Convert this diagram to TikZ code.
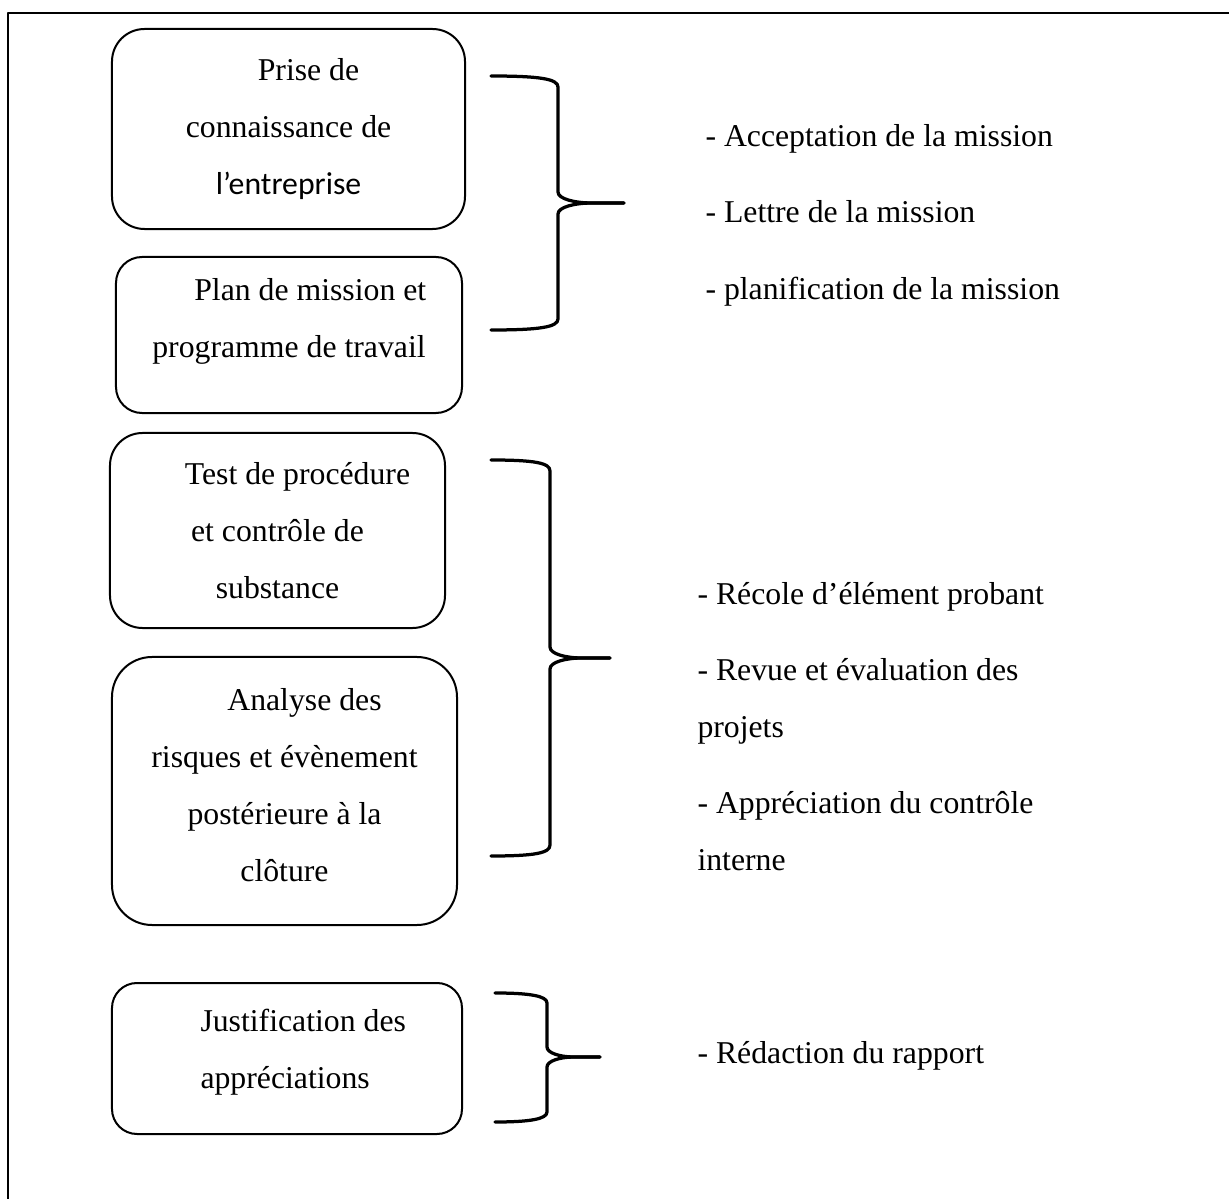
\documentclass[tikz,border=0pt]{standalone}
\usepackage{fontspec}
\setmainfont{Liberation Serif}
\newfontfamily\calibri{Carlito}

\begin{document}
\begin{tikzpicture}[line cap=round,line join=round,x=0.4pt,y=-0.4pt,
    etape/.style={draw,line width=0.8pt,align=center,inner sep=0pt,font=\fontsize{12.7}{22.8}\selectfont},
    accolade/.style={line width=1.3pt},
    tache/.style={anchor=base west,align=left,inner sep=0pt,font=\fontsize{12.7}{22.8}\selectfont}]
    \useasboundingbox (0,0) rectangle (1229,1199);
    % cadre
    \draw [line width=1.1pt] (8,1199) -- (8,13) -- (1229,13);
    % etapes de la mission
    \node[etape,rounded corners=13pt,minimum width=141.2pt,minimum height=80pt] (prise) at (288.5,129)
        {\hspace*{16pt}Prise de\\connaissance de\\{\calibri l’entreprise}};
    \node[etape,rounded corners=10.4pt,minimum width=138.4pt,minimum height=62.4pt] (plan) at (289,335)
        {\hspace*{17pt}Plan de mission et\\programme de travail\rule[-14pt]{0pt}{0pt}};
    \node[etape,rounded corners=13pt,minimum width=134pt,minimum height=78pt] (test) at (277.5,530.5)
        {\hspace*{16pt}Test de procédure\\et contrôle de\\substance};
    \node[etape,rounded corners=16pt,minimum width=138pt,minimum height=107.2pt] (analyse) at (284.5,791)
        {\hspace*{16pt}Analyse des\\risques et évènement\\postérieure à la\\clôture\rule[-5pt]{0pt}{0pt}};
    \node[etape,align=left,rounded corners=10pt,minimum width=140pt,minimum height=60.4pt] (justif) at (287,1058.5)
        {\hspace*{13pt}Justification des\\\hspace*{13pt}appréciations\rule[-8pt]{0pt}{0pt}};
    % accolades
    \draw [accolade] (491,76) .. controls (540,76) and (558,79) .. (558,87) -- (558,192)
        .. controls (558,199) and (575,203) .. (592,203) -- (624,203);
    \draw [accolade] (624,203) -- (592,203) .. controls (575,203) and (558,207) .. (558,214) -- (558,319)
        .. controls (558,327) and (540,330) .. (491,330);
    \draw [accolade] (491,460) .. controls (535,460) and (550,463) .. (550,471) -- (550,647)
        .. controls (550,654) and (566,658) .. (582,658) -- (610,658);
    \draw [accolade] (610,658) -- (582,658) .. controls (566,658) and (550,662) .. (550,669) -- (550,845)
        .. controls (550,853) and (535,856) .. (491,856);
    \draw [accolade] (495,993) .. controls (530,993) and (547,996) .. (547,1003) -- (547,1047)
        .. controls (547,1053) and (560,1057) .. (574,1057) -- (600,1057);
    \draw [accolade] (600,1057) -- (574,1057) .. controls (560,1057) and (547,1061) .. (547,1067) -- (547,1112)
        .. controls (547,1119) and (530,1122) .. (495,1122);
    % travaux
    \node[tache] (acceptation) at (705,147) {- Acceptation de la mission};
    \node[tache] (lettre) at (705,223) {- Lettre de la mission};
    \node[tache] (planif) at (705,300) {- planification de la mission};
    \node[tache] (recole) at (697,605) {- Récole d’élément probant};
    \node[tache] (revue) at (697,737) {- Revue et évaluation des\\projets};
    \node[tache] (appreciation) at (697,870) {- Appréciation du contrôle\\interne};
    \node[tache] (redaction) at (697,1063) {- Rédaction du rapport};
\end{tikzpicture}
\end{document}
